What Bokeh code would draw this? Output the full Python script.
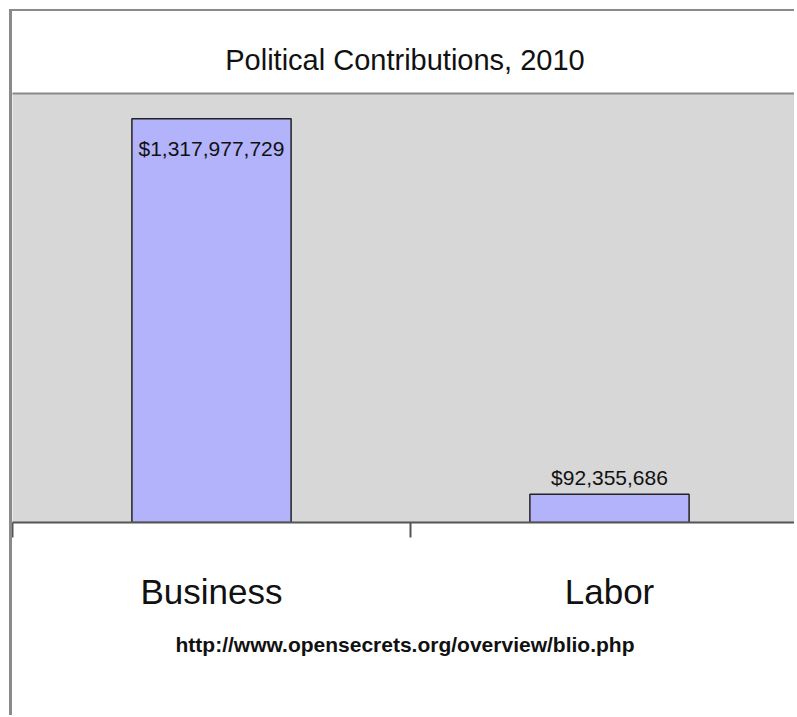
from bokeh.plotting import figure
from bokeh.models import (Range1d, FixedTicker, ColumnDataSource, LabelSet, Title,
                          LinearAxis)
from bokeh.core.properties import value
from bokeh.embed import file_html
from bokeh.resources import INLINE

categories = ["Business", "Labor"]
amounts = [1317977729, 92355686]
amount_labels = ["$1,317,977,729", "$92,355,686"]
title_text = "Political Contributions, 2010"
source_text = "http://www.opensecrets.org/overview/blio.php"

FONT = "Liberation Sans"

y_max = 1.4e9
xs = [i + 0.5 for i in range(len(categories))]
# labels that would not fit above the bar go inside it
inside = [a > 0.8 * y_max for a in amounts]
offsets = [-37 if f else 9 for f in inside]

src = ColumnDataSource(dict(x=xs, top=amounts, label=amount_labels, off=offsets))

p = figure(width=785, height=706, output_backend="svg", toolbar_location=None,
           x_range=Range1d(0, 785 / 398), y_range=Range1d(0, y_max),
           min_border_left=0, min_border_right=0, min_border_top=82,
           min_border_bottom=195)
p.styles = {"margin-left": "9px", "margin-top": "9px",
            "border-left": "3px solid #8a8a8a", "border-top": "2px solid #8a8a8a"}
p.background_fill_color = "#d7d7d7"
p.border_fill_color = "white"
p.outline_line_color = None
p.grid.visible = False
p.yaxis.visible = False

p.vbar(x="x", top="top", width=0.4, bottom=0, source=src,
       fill_color="#b2b3fb", line_color="#222222", line_width=1.5)

p.add_layout(LabelSet(x="x", y="top", text="label", y_offset="off", source=src,
                      text_align="center", text_baseline="alphabetic",
                      text_font=value(FONT), text_font_size=value("21px"),
                      text_color="#111111"))

ax = p.xaxis[0]
ax.ticker = FixedTicker(ticks=xs, minor_ticks=list(range(len(categories) + 1)))
ax.major_label_overrides = {x: c for x, c in zip(xs, categories)}
ax.major_tick_line_color = None
ax.major_tick_out = 0
ax.major_tick_in = 0
ax.minor_tick_out = 15
ax.minor_tick_in = 0
ax.minor_tick_line_color = "#555555"
ax.minor_tick_line_width = 2
ax.axis_line_color = "#555555"
ax.axis_line_width = 2
ax.major_label_standoff = 34
ax.major_label_text_font = FONT
ax.major_label_text_font_size = "35px"
ax.major_label_text_color = "#111111"

top_edge = LinearAxis(ticker=FixedTicker(ticks=[]), major_tick_line_color=None,
                      minor_tick_line_color=None, major_label_text_font_size="0px",
                      axis_line_color="#8a8a8a", axis_line_width=2)
p.add_layout(top_edge, "above")

p.add_layout(Title(text=title_text, align="center", text_font=FONT,
                   text_font_size="29px", text_font_style="normal",
                   text_color="#111111", standoff=36), "above")
p.add_layout(Title(text=source_text, align="center", text_font=FONT,
                   text_font_size="21px", text_font_style="bold",
                   text_color="#111111", standoff=35), "below")

open("out.html", "w").write(file_html(p, INLINE))
